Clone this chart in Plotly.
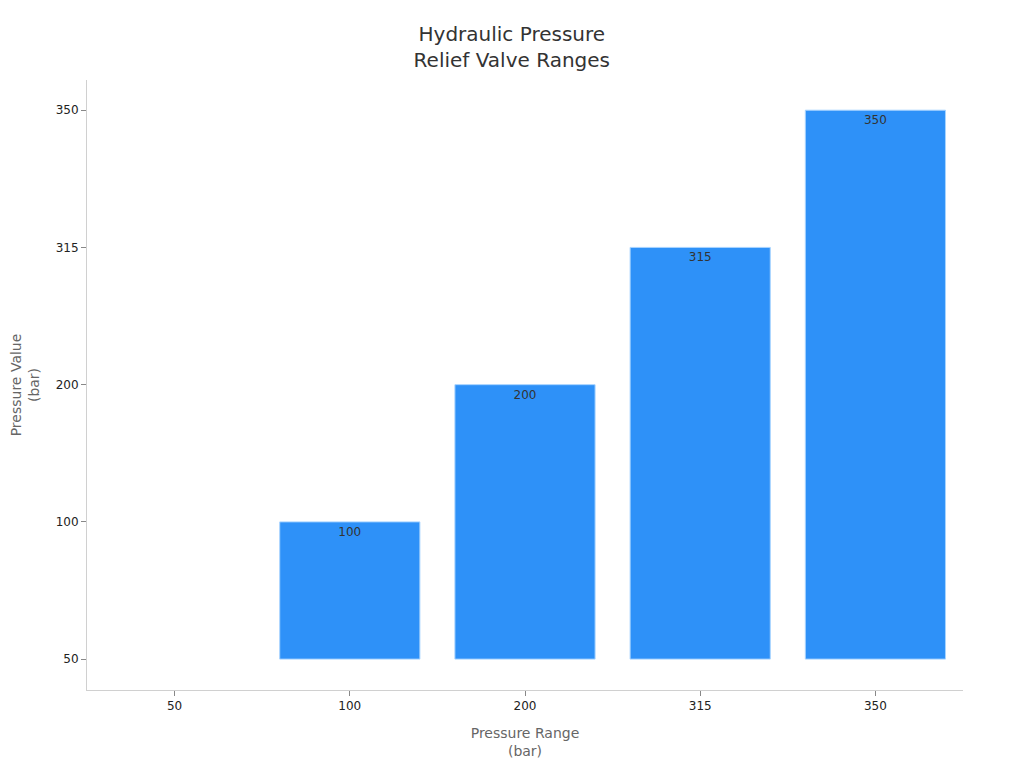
import plotly.graph_objects as go

# pressure categories on both axes
pressure_ranges = ["50", "100", "200", "315", "350"]
pressure_values = ["50", "100", "200", "315", "350"]
value_labels = ["", "100", "200", "315", "350"]

# zero-height first bar gets no outline
outline_widths = [0 if v == pressure_values[0] else 1 for v in pressure_values]

fig = go.Figure()
fig.add_trace(go.Bar(
    x=pressure_ranges,
    y=pressure_values,
    text=value_labels,
    textposition="inside",
    insidetextanchor="end",
    textfont=dict(size=12, color="#333333"),
    marker=dict(color="#2E91F8", line=dict(color="#A8D4FF", width=outline_widths)),
    showlegend=False,
))

fig.update_layout(
    width=1024, height=768,
    font=dict(family="DejaVu Sans", size=12, color="#222222"),
    title=dict(text="Hydraulic Pressure<br>Relief Valve Ranges", x=0.492, xanchor="center",
               y=0.957, font=dict(size=20, color="#333333")),
    plot_bgcolor="white", paper_bgcolor="white",
    margin=dict(l=79, r=69, t=72, b=86),
    bargap=0.2,
)
fig.update_xaxes(
    type="category", categoryorder="array", categoryarray=pressure_ranges,
    range=[-0.5, 4.5],
    title=dict(text="Pressure Range<br>(bar)", font=dict(size=14, color="#666666"), standoff=15),
    showline=True, linecolor="#d0d0d0", linewidth=1,
    ticks="outside", ticklen=5, tickcolor="#888888", showgrid=False,
)
fig.update_yaxes(
    type="category", categoryorder="array", categoryarray=pressure_values,
    range=[-0.225, 4.22],
    automargin=False,
    title=dict(text="Pressure Value<br>(bar)", font=dict(size=14, color="#666666"), standoff=15),
    showline=True, linecolor="#d0d0d0", linewidth=1,
    ticks="outside", ticklen=5, tickcolor="#888888", showgrid=False, zeroline=False,
)

fig.write_html("out.html")
